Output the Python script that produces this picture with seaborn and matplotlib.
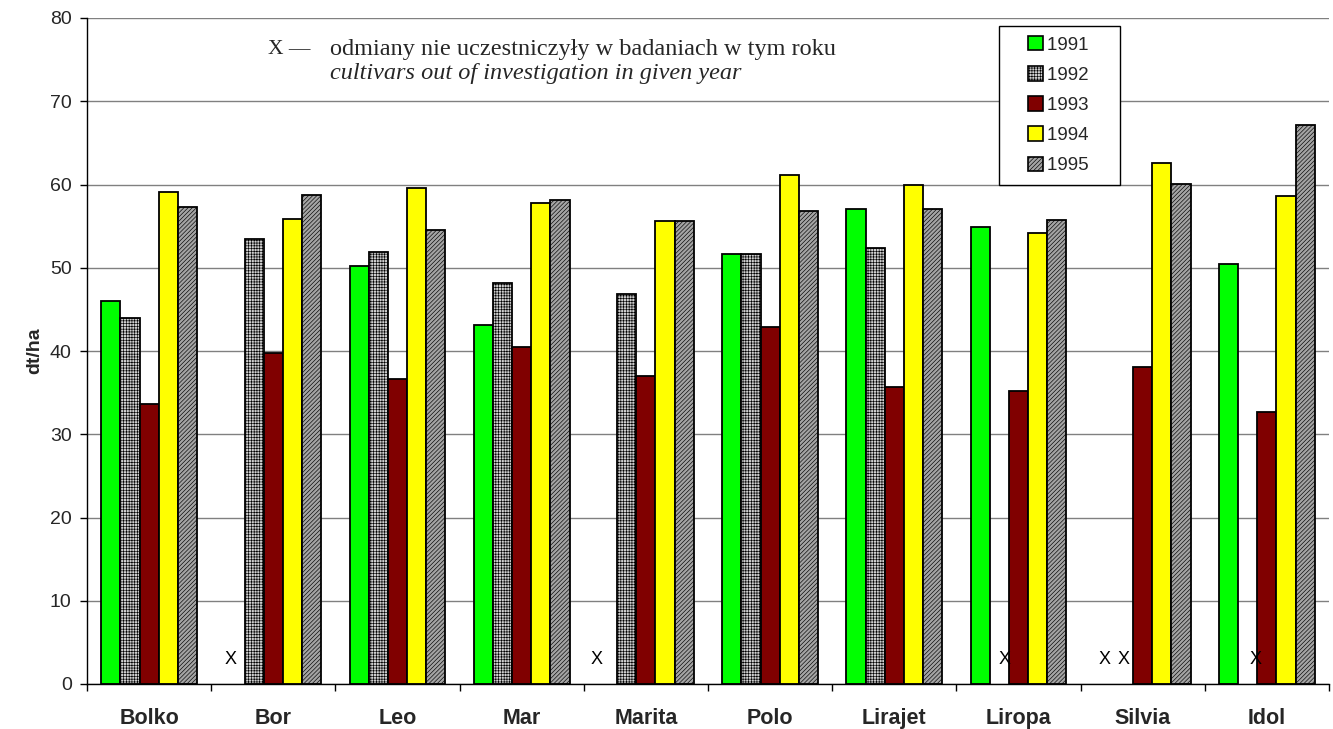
import numpy as np
import pandas as pd
import matplotlib
matplotlib.use("Agg")
import matplotlib.pyplot as plt
import seaborn as sns
from matplotlib.patches import Patch, Rectangle
from matplotlib.legend_handler import HandlerPatch

nan = np.nan

cultivars = ["Bolko", "Bor", "Leo", "Mar", "Marita", "Polo", "Lirajet", "Liropa", "Silvia", "Idol"]
years = ["1991", "1992", "1993", "1994", "1995"]

y1991 = [46.0, nan, 50.2, 43.1, nan, 51.7, 57.0, 54.9, nan, 50.5]
y1992 = [44.0, 53.4, 51.9, 48.2, 46.8, 51.6, 52.4, nan, nan, nan]
y1993 = [33.6, 39.8, 36.6, 40.5, 37.0, 42.9, 35.7, 35.2, 38.1, 32.7]
y1994 = [59.1, 55.8, 59.6, 57.8, 55.6, 61.2, 60.0, 54.2, 62.6, 58.6]
y1995 = [57.3, 58.7, 54.5, 58.1, 55.6, 56.8, 57.1, 55.7, 60.1, 67.1]

series = [y1991, y1992, y1993, y1994, y1995]

face_colors = ["#00ff00", "#cfcfcf", "#800000", "#ffff00", "#a4a4a4"]
hatches = [None, "++++++", None, None, "////////"]

# small horizontal nudges (category units) for the "X" markers: (cultivar, year) -> dx
x_nudge = {("Bor", "1991"): -0.035, ("Marita", "1991"): -0.09,
           ("Liropa", "1992"): 0.04, ("Idol", "1992"): 0.065}

df = pd.DataFrame(
    [(c, yr, v) for yr, vals in zip(years, series) for c, v in zip(cultivars, vals)],
    columns=["cultivar", "year", "value"],
)

sns.set_theme(style="white")
plt.rcParams["font.family"] = ["Liberation Sans", "DejaVu Sans"]
plt.rcParams["hatch.linewidth"] = 0.45

fig = plt.figure(figsize=(13.33, 7.29), dpi=100)
ax = fig.add_axes([87 / 1333, 45 / 729, 1242 / 1333, 666 / 729])

group_width = 0.77
sns.barplot(
    data=df.dropna(), x="cultivar", y="value", hue="year",
    order=cultivars, hue_order=years, palette=dict(zip(years, face_colors)),
    width=group_width, saturation=1, errorbar=None,
    edgecolor="black", linewidth=1.3, legend=False, ax=ax,
)

for cont, fc, h in zip(ax.containers, face_colors, hatches):
    for bar in cont:
        bar.set_facecolor(fc)
        bar.set_edgecolor("black")
        if h:
            bar.set_hatch(h)

# mark cultivars absent from the trial in a given year
bar_w = group_width / len(years)
for j, vals in enumerate(series):
    for i, v in enumerate(vals):
        if np.isnan(v):
            xpos = i + (j - (len(years) - 1) / 2) * bar_w
            xpos += x_nudge.get((cultivars[i], years[j]), 0.0)
            ax.text(xpos, 2.9, "X", ha="center", va="center", fontsize=13, color="black")

ax.set_ylim(0, 80)
ax.set_xlim(-0.5, len(cultivars) - 0.5)
ax.set_yticks(np.arange(0, 81, 10))
ax.yaxis.grid(True, color="#808080", linewidth=1)
ax.set_axisbelow(True)
ax.tick_params(axis="y", direction="out", length=5, width=1, color="black",
               labelsize=14, pad=6, left=True)

ax.set_xticks(np.arange(-0.5, len(cultivars), 1))
ax.set_xticklabels([])
ax.set_xticks(np.arange(len(cultivars)), minor=True)
ax.set_xticklabels(cultivars, minor=True, fontsize=15.5, fontweight="bold")
ax.tick_params(axis="x", which="major", direction="out", length=5, width=1,
               color="black", bottom=True)
ax.tick_params(axis="x", which="minor", length=0, pad=17)
ax.set_xlabel("")
ax.set_ylabel("dt/ha", fontsize=14, fontweight="bold", labelpad=5)

for side in ["top", "right"]:
    ax.spines[side].set_visible(False)
for side in ["left", "bottom"]:
    ax.spines[side].set_color("black")
    ax.spines[side].set_linewidth(1)


class RightSquare(HandlerPatch):
    """Draw the legend key as a square pushed to the right of its slot."""
    def create_artists(self, legend, orig_handle, xdescent, ydescent,
                       width, height, fontsize, trans):
        side = height * 1.05
        p = Rectangle((width - side - xdescent, -ydescent + (height - side) / 2),
                      side, side, facecolor=orig_handle.get_facecolor(),
                      edgecolor="black", hatch=orig_handle.get_hatch(),
                      linewidth=1.2, transform=trans)
        return [p]


handles = [Patch(facecolor=fc, edgecolor="black", hatch=h, linewidth=1.2)
           for fc, h in zip(face_colors, hatches)]
leg = ax.legend(handles, [y + "    " for y in years], loc="upper left",
                bbox_to_anchor=(0.734, 0.988), borderaxespad=0, fontsize=13.5,
                handlelength=1.8, handleheight=0.75, handletextpad=0.25,
                labelspacing=0.68, borderpad=0.55, frameon=True, fancybox=False,
                framealpha=1, handler_map={Patch: RightSquare()})
leg.get_frame().set_edgecolor("black")
leg.get_frame().set_linewidth(1)

serif = ["Liberation Serif", "DejaVu Serif"]
ax.text(0.146, 0.953, "X —", transform=ax.transAxes, family=serif,
        fontsize=15.5, va="center", ha="left")
ax.text(0.1957, 0.953, "odmiany nie uczestniczyły w badaniach w tym roku",
        transform=ax.transAxes, family=serif, fontsize=17.5, va="center", ha="left")
ax.text(0.1957, 0.916, "cultivars out of investigation in given year",
        transform=ax.transAxes, family=serif, fontsize=17.5, style="italic",
        va="center", ha="left")

fig.savefig("out.png", dpi=100)
